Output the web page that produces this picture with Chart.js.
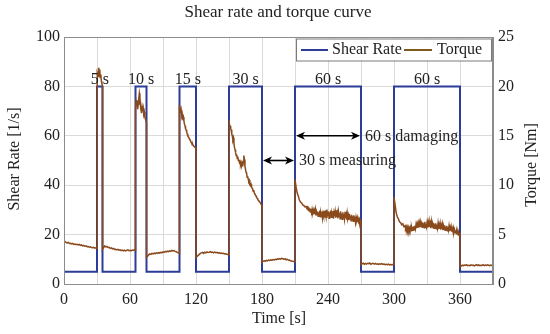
<!DOCTYPE html>
<html><head><meta charset="utf-8">
<script src="https://cdn.jsdelivr.net/npm/chart.js@4/dist/chart.umd.min.js"></script>
<style>html,body{margin:0;padding:0;background:#fff}</style>
</head><body>
<canvas id="c" width="550" height="334"></canvas>
<script>
// ---- text ----
const chartTitle = 'Shear rate and torque curve';
const xAxisTitle = 'Time [s]';
const yLeftTitle = 'Shear Rate [1/s]';
const yRightTitle = 'Torque [Nm]';
const seriesNames = ['Shear Rate', 'Torque'];

// ---- ticks ----
const xTickLabels = [0, 60, 120, 180, 240, 300, 360];
const shearTicks = [0, 20, 40, 60, 80, 100];
const torqueTicks = [0, 5, 10, 15, 20, 25];

// ---- shear rate (square wave) ----
const shearTime = [0, 30, 30, 35, 35, 65, 65, 75, 75, 105, 105, 120, 120, 150, 150, 180, 180, 210, 210, 270, 270, 300, 300, 360, 360, 390];
const shearRate = [5, 5, 80, 80, 5, 5, 80, 80, 5, 5, 80, 80, 5, 5, 80, 80, 5, 5, 80, 80, 5, 5, 80, 80, 5, 5];

// ---- torque, [time s, torque Nm] ----
const torqueRest1 = [[0,4.25],[1,4.3],[2,4.2],[3,4.15],[4,4.2],[5,4.1],[6,4.12],[7,4.05],[8,4.1],[9,4.0],[10,4.05],[11,3.98],[12,4.02],[13,3.95],[14,4.0],[15,3.9],[16,3.95],[17,3.85],[18,3.9],[19,3.82],[20,3.86],[21,3.78],[22,3.8],[23,3.72],[24,3.76],[25,3.7],[26,3.68],[27,3.72],[28,3.62],[29,3.66],[30,3.6]];
const torquePulse5 = [[30,20.6],[30.5,21.3],[31,21.0],[31.5,21.9],[32,21.4],[32.5,21.7],[33,20.9],[33.5,21.2],[34,20.5],[34.5,20.3],[35,19.9]];
const torqueRest2 = [[35,3.5],[36,3.7],[37,3.85],[38,3.75],[39,3.8],[40,3.7],[41,3.72],[42,3.6],[43,3.65],[44,3.55],[45,3.6],[46,3.5],[47,3.52],[48,3.45],[49,3.5],[50,3.42],[51,3.46],[52,3.38],[53,3.44],[54,3.36],[55,3.42],[56,3.35],[57,3.4],[58,3.45],[59,3.38],[60,3.42],[61,3.36],[62,3.44],[63,3.4],[64,3.46],[65,3.42]];
const torquePulse10 = [[65,17.6],[65.5,18.4],[66,18.0],[66.5,18.6],[67,17.7],[67.5,18.2],[68,18.8],[68.5,19.3],[69,18.9],[69.5,18.1],[70,17.6],[70.5,17.3],[71,17.9],[71.5,17.5],[72,17.8],[72.5,17.2],[73,17.4],[73.5,16.9],[74,16.7],[74.5,16.5],[75,16.3]];
const torqueRest3 = [[75,2.7],[76,2.8],[77,2.95],[78,3.05],[79,3.0],[80,3.1],[81,3.05],[82,3.12],[83,3.08],[84,3.15],[85,3.1],[86,3.18],[87,3.12],[88,3.2],[89,3.16],[90,3.25],[91,3.2],[92,3.3],[93,3.24],[94,3.32],[95,3.28],[96,3.36],[97,3.3],[98,3.4],[99,3.34],[100,3.38],[101,3.3],[102,3.26],[103,3.2],[104,3.15],[105,3.12]];
const torquePulse15 = [[105,18.1],[105.5,17.7],[106,17.3],[106.5,17.6],[107,17.0],[107.5,17.2],[108,16.8],[108.5,16.9],[109,16.5],[109.5,16.2],[110,16.0],[110.5,15.7],[111,15.6],[111.5,15.4],[112,15.2],[112.5,15.1],[113,14.9],[113.5,14.8],[114,14.7],[114.5,14.6],[115,14.5],[115.5,14.35],[116,14.3],[116.5,14.1],[117,14.15],[117.5,14.0],[118,13.95],[118.5,13.9],[119,13.85],[119.5,13.8],[120,13.8]];
const torqueRest4 = [[120,2.7],[121,2.8],[122,2.9],[123,3.0],[124,3.1],[125,3.15],[126,3.2],[127,3.1],[128,3.22],[129,3.15],[130,3.25],[131,3.18],[132,3.2],[133,3.28],[134,3.2],[135,3.24],[136,3.15],[137,3.22],[138,3.16],[139,3.2],[140,3.12],[141,3.18],[142,3.1],[143,3.14],[144,3.08],[145,3.1],[146,3.04],[147,3.06],[148,3.0],[149,2.98],[150,2.96]];
const torquePulse30 = [[150,16.6],[150.5,16.2],[151,16.0],[151.5,15.7],[152,15.6],[152.5,15.2],[153,15.0],[153.5,14.6],[154,14.8],[154.5,14.2],[155,13.8],[155.5,13.6],[156,13.3],[156.5,13.0],[157,13.1],[157.5,12.7],[158,12.9],[158.5,12.5],[159,12.6],[159.5,12.3],[160,12.4],[160.5,12.1],[161,12.3],[161.5,12.0],[162,12.2],[162.5,11.9],[163,12.4],[163.5,13.0],[164,12.6],[164.5,11.9],[165,11.6],[165.5,11.3],[166,11.2],[166.5,10.8],[167,10.9],[167.5,10.6],[168,10.4],[168.5,10.5],[169,10.2],[169.5,10.0],[170,10.1],[170.5,9.8],[171,9.7],[171.5,9.6],[172,9.4],[172.5,9.5],[173,9.2],[173.5,9.1],[174,9.0],[174.5,8.9],[175,8.85],[175.5,8.7],[176,8.6],[176.5,8.5],[177,8.45],[177.5,8.35],[178,8.3],[178.5,8.2],[179,8.1],[179.5,8.05],[180,8.0]];
const torqueRest5 = [[180,2.2],[181,2.3],[182,2.35],[183,2.3],[184,2.4],[185,2.35],[186,2.42],[187,2.38],[188,2.45],[189,2.4],[190,2.48],[191,2.44],[192,2.5],[193,2.46],[194,2.55],[195,2.5],[196,2.58],[197,2.52],[198,2.6],[199,2.55],[200,2.5],[201,2.56],[202,2.45],[203,2.5],[204,2.4],[205,2.42],[206,2.35],[207,2.32],[208,2.3],[209,2.28],[210,2.25]];
const torquePulse60a = [[210,10.6],[211,9.8],[212,9.2],[213,8.9],[214,8.5],[215,8.3],[216,8.2],[217,8.0],[218,7.95],[219,7.8],[220,7.85],
  [221,7.6],[221.5,7.9],[222,7.5],[222.5,7.75],[223,7.4],[223.5,7.65],[224,7.3],[224.5,7.6],[225,7.25],[225.5,7.55],[226,7.2],[226.5,7.45],[227,7.05],[227.5,7.4],[228,7.1],[228.5,7.5],[229,6.95],[229.5,7.3],[230,7.0],[230.5,7.35],
  [231,6.85],[231.5,7.25],[232,6.9],[232.5,7.45],[233,6.8],[233.5,7.2],[234,6.95],[234.5,7.35],[235,6.7],[235.5,7.15],[236,6.9],[236.5,7.4],[237,6.75],[237.5,7.1],[238,6.85],[238.5,7.5],[239,6.7],[239.5,7.2],[240,6.95],[240.5,7.35],
  [241,6.65],[241.5,7.25],[242,6.9],[242.5,7.45],[243,6.75],[243.5,7.1],[244,6.85],[244.5,7.4],[245,6.6],[245.5,7.2],[246,6.9],[246.5,7.3],[247,6.7],[247.5,7.45],[248,6.8],[248.5,7.15],[249,6.65],[249.5,7.3],[250,6.85],[250.5,7.2],
  [251,6.6],[251.5,7.35],[252,6.8],[252.5,7.1],[253,6.55],[253.5,7.25],[254,6.75],[254.5,7.05],[255,6.6],[255.5,7.3],[256,6.7],[256.5,7.0],[257,6.5],[257.5,7.15],[258,6.7],[258.5,6.95],[259,6.45],[259.5,7.1],[260,6.6],[260.5,6.9],
  [261,6.4],[261.5,7.0],[262,6.55],[262.5,6.85],[263,6.35],[263.5,6.95],[264,6.5],[264.5,6.8],[265,6.3],[265.5,6.75],[266,6.45],[266.5,6.7],[267,6.25],[267.5,6.6],[268,6.4],[268.5,6.55],[269,6.2],[269.5,6.45],[270,6.35]];
const torqueRest6 = [[270,1.95],[271,2.05],[272,2.1],[273,2.0],[274,2.08],[275,2.02],[276,2.1],[277,2.05],[278,2.12],[279,2.0],[280,2.06],[281,2.1],[282,2.02],[283,2.08],[284,2.0],[285,2.04],[286,1.98],[287,2.05],[288,2.0],[289,2.06],[290,1.98],[291,2.02],[292,1.95],[293,2.0],[294,1.96],[295,2.02],[296,1.94],[297,1.98],[298,1.95],[299,1.97],[300,1.96]];
const torquePulse60b = [[300,8.8],[301,8.0],[302,7.2],[303,6.8],[304,6.6],[305,6.3],[306,6.2],[307,6.0],[308,6.1],[309,5.8],
  [310,5.9],[310.5,5.65],[311,5.8],[311.5,5.5],[312,5.75],[312.5,5.45],[313,5.7],[313.5,5.4],[314,5.65],[314.5,5.45],[315,5.7],[315.5,5.4],[316,5.75],[316.5,5.5],[317,5.8],[317.5,5.45],[318,5.85],[318.5,5.55],[319,5.9],[319.5,5.6],
  [320,6.0],[320.5,5.65],[321,6.05],[321.5,5.7],[322,6.1],[322.5,5.7],[323,6.15],[323.5,5.75],[324,6.2],[324.5,5.8],[325,6.1],[325.5,5.75],[326,6.25],[326.5,5.8],[327,6.15],[327.5,5.7],[328,6.3],[328.5,5.75],[329,6.1],[329.5,5.8],
  [330,6.2],[330.5,5.7],[331,6.15],[331.5,5.75],[332,6.3],[332.5,5.8],[333,6.1],[333.5,5.65],[334,6.25],[334.5,5.75],[335,6.1],[335.5,5.7],[336,6.2],[336.5,5.65],[337,6.05],[337.5,5.7],[338,6.15],[338.5,5.6],[339,6.0],[339.5,5.65],
  [340,6.1],[340.5,5.55],[341,5.95],[341.5,5.6],[342,6.05],[342.5,5.5],[343,5.9],[343.5,5.6],[344,6.0],[344.5,5.45],[345,5.85],[345.5,5.55],[346,5.95],[346.5,5.45],[347,5.8],[347.5,5.5],[348,5.9],[348.5,5.4],[349,5.75],[349.5,5.45],
  [350,5.85],[350.5,5.35],[351,5.7],[351.5,5.4],[352,5.75],[352.5,5.3],[353,5.6],[353.5,5.35],[354,5.65],[354.5,5.25],[355,5.5],[355.5,5.2],[356,5.45],[356.5,5.1],[357,5.3],[357.5,5.05],[358,5.2],[358.5,4.95],[359,5.1],[359.5,4.9],[360,5.0]];
const torqueRest7 = [[360,1.7],[361,1.8],[362,1.9],[363,1.85],[364,1.92],[365,1.88],[366,1.95],[367,1.85],[368,1.9],[369,1.86],[370,1.94],[371,1.88],[372,1.92],[373,1.84],[374,1.9],[375,1.95],[376,1.87],[377,1.93],[378,1.85],[379,1.9],[380,1.88],[381,1.95],[382,1.86],[383,1.92],[384,1.88],[385,1.94],[386,1.9],[387,1.86],[388,1.92],[389,1.88],[390,1.9]];

// ---- annotations ----
const pulseLabels = ['5 s', '10 s', '15 s', '30 s', '60 s', '60 s'];
const pulseLabelTime = [32.5, 70, 112.5, 165, 240, 330];
const pulseLabelRate = 80;
const arrowLabels = ['60 s damaging', '30 s measuring'];
const arrowStart = [210, 180];
const arrowEnd = [270, 210];
const arrowRate = [60, 50];

// ---- build ----
const torqueSegments = [torqueRest1, torquePulse5, torqueRest2, torquePulse10, torqueRest3, torquePulse15, torqueRest4, torquePulse30, torqueRest5, torquePulse60a, torqueRest6, torquePulse60b, torqueRest7];
const torqueData = [];
torqueSegments.forEach(seg => seg.forEach(p => torqueData.push({x: p[0], y: p[1]})));
const shearData = shearTime.map((t, i) => ({x: t, y: shearRate[i]}));

const SERIF = '"Liberation Serif", "Times New Roman", serif';
const BLUE = '#2d3c96';
const BROWN = '#8a4a1c';
const TXT = '#222';
const FS = 16;

const overlay = {
  id: 'overlay',
  afterDraw(chart) {
    const ctx = chart.ctx, a = chart.chartArea;
    const xs = chart.scales.x, ys = chart.scales.y;
    ctx.save();
    // frame
    ctx.strokeStyle = '#8c8c8c'; ctx.lineWidth = 1;
    ctx.strokeRect(a.left + 0.5, a.top + 0.5, a.right - a.left - 1, a.bottom - a.top);
    // title
    ctx.fillStyle = TXT; ctx.textAlign = 'center'; ctx.textBaseline = 'middle';
    ctx.font = '17px ' + SERIF;
    ctx.fillText(chartTitle, 278, 13);
    // axis titles
    ctx.font = FS + 'px ' + SERIF;
    ctx.fillText(xAxisTitle, 279, 319);
    ctx.save(); ctx.translate(15, 159); ctx.rotate(-Math.PI / 2); ctx.fillText(yLeftTitle, 0, 0); ctx.restore();
    ctx.save(); ctx.translate(532, 165); ctx.rotate(-Math.PI / 2); ctx.fillText(yRightTitle, 0, 0); ctx.restore();
    // pulse labels
    ctx.textBaseline = 'alphabetic';
    pulseLabels.forEach((s, i) => {
      ctx.fillText(s, xs.getPixelForValue(pulseLabelTime[i]), ys.getPixelForValue(pulseLabelRate) - 2.5);
    });
    // arrows
    ctx.strokeStyle = '#000'; ctx.fillStyle = '#000'; ctx.lineWidth = 1.6;
    arrowLabels.forEach((s, i) => {
      const x1 = xs.getPixelForValue(arrowStart[i]) + 1, x2 = xs.getPixelForValue(arrowEnd[i]) - 1;
      const y = ys.getPixelForValue(arrowRate[i]);
      ctx.beginPath(); ctx.moveTo(x1 + 6, y); ctx.lineTo(x2 - 6, y); ctx.stroke();
      [[x1, 1], [x2, -1]].forEach(([x, d]) => {
        ctx.beginPath(); ctx.moveTo(x, y); ctx.lineTo(x + d * 9, y - 4); ctx.lineTo(x + d * 6.5, y); ctx.lineTo(x + d * 9, y + 4); ctx.closePath(); ctx.fill();
      });
      ctx.fillStyle = TXT; ctx.textAlign = 'left'; ctx.textBaseline = 'middle';
      ctx.fillText(s, x2 + 5, y + 0.5);
      ctx.fillStyle = '#000';
    });
    // legend
    const lx = 296, ly = 38.5, lw = 195, lh = 22;
    ctx.fillStyle = '#fff'; ctx.fillRect(lx, ly, lw, lh);
    ctx.strokeStyle = '#7a7a7a'; ctx.lineWidth = 1; ctx.strokeRect(lx + 0.5, ly + 0.5, lw, lh);
    const cy = ly + lh / 2 + 0.5;
    ctx.lineWidth = 2;
    ctx.strokeStyle = BLUE; ctx.beginPath(); ctx.moveTo(301, cy); ctx.lineTo(328, cy); ctx.stroke();
    ctx.strokeStyle = '#7f5a1e'; ctx.beginPath(); ctx.moveTo(404, cy); ctx.lineTo(432, cy); ctx.stroke();
    ctx.fillStyle = TXT; ctx.textAlign = 'left'; ctx.textBaseline = 'middle';
    ctx.fillText(seriesNames[0], 332, cy);
    ctx.fillText(seriesNames[1], 437, cy);
    ctx.restore();
  }
};

new Chart(document.getElementById('c'), {
  type: 'line',
  data: {
    datasets: [
      {label: seriesNames[0], data: shearData, yAxisID: 'y', borderColor: BLUE, borderWidth: 2, pointRadius: 0, tension: 0, order: 2},
      {label: seriesNames[1], data: torqueData, yAxisID: 'y2', borderColor: BROWN, borderWidth: 1.5, pointRadius: 0, tension: 0, order: 1}
    ]
  },
  options: {
    responsive: false, animation: false, devicePixelRatio: 1,
    layout: {padding: {top: 37, left: 0, right: 0, bottom: 0}},
    plugins: {legend: {display: false}, title: {display: false}, tooltip: {enabled: false}},
    scales: {
      x: {
        type: 'linear', min: 0, max: 390,
        afterBuildTicks: s => { s.ticks = []; for (let v = 0; v <= 390; v += 30) s.ticks.push({value: v}); },
        ticks: {autoSkip: false, maxRotation: 0, padding: 6, color: TXT, font: {family: SERIF, size: FS},
          callback: v => xTickLabels.includes(v) ? String(v) : ''},
        grid: {color: '#dadada', drawTicks: false},
        border: {color: '#8c8c8c'},
        afterFit: s => { s.height = 50; }
      },
      y: {
        position: 'left', min: 0, max: 100,
        afterBuildTicks: s => { s.ticks = shearTicks.map(v => ({value: v})); },
        ticks: {padding: 4, color: TXT, font: {family: SERIF, size: FS}},
        grid: {color: '#dadada', drawTicks: false},
        border: {color: '#8c8c8c'},
        afterFit: s => { s.width = 64; }
      },
      y2: {
        position: 'right', min: 0, max: 25,
        afterBuildTicks: s => { s.ticks = torqueTicks.map(v => ({value: v})); },
        ticks: {padding: 5, color: TXT, font: {family: SERIF, size: FS}},
        grid: {drawOnChartArea: false, drawTicks: false},
        border: {color: '#8c8c8c'},
        afterFit: s => { s.width = 57; }
      }
    }
  },
  plugins: [overlay]
});
</script>
</body></html>
